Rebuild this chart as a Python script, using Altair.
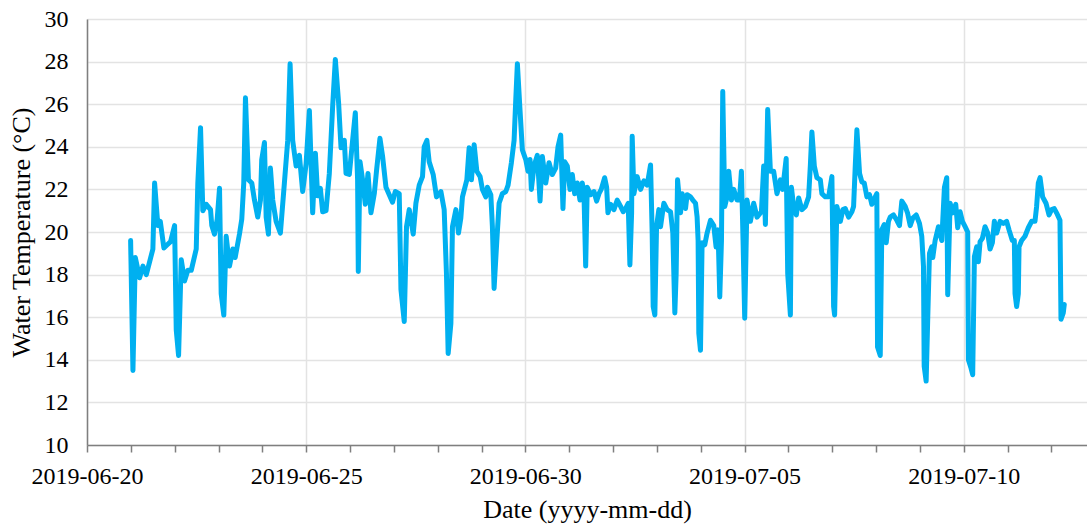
import altair as alt
import pandas as pd

start = "2019-06-20"

# time in days since 2019-06-20 00:00
day_offsets = [
    0.995, 1.048, 1.102, 1.200, 1.276, 1.353, 1.428, 1.503, 1.542, 1.617, 1.672, 1.754, 1.831, 1.907,
    1.998, 2.036, 2.089, 2.150, 2.225, 2.301, 2.378, 2.492, 2.528, 2.590, 2.642, 2.720, 2.818, 2.847,
    2.909, 2.970, 3.023, 3.061, 3.121, 3.175, 3.251, 3.326, 3.380, 3.478, 3.531, 3.576, 3.615, 3.683,
    3.759, 3.820, 3.895, 3.957, 3.986, 4.048, 4.087, 4.139, 4.184, 4.237, 4.314, 4.412, 4.503, 4.579,
    4.633, 4.692, 4.770, 4.845, 4.920, 4.998, 5.073, 5.148, 5.210, 5.262, 5.323, 5.376, 5.453, 5.528,
    5.604, 5.665, 5.740, 5.795, 5.870, 5.909, 5.984, 6.059, 6.121, 6.173, 6.189, 6.228, 6.287, 6.348,
    6.410, 6.478, 6.554, 6.606, 6.683, 6.743, 6.820, 6.895, 6.970, 7.032, 7.123, 7.162, 7.237, 7.289,
    7.351, 7.442, 7.503, 7.579, 7.654, 7.692, 7.754, 7.806, 7.897, 7.973, 8.073, 8.148, 8.200, 8.239,
    8.301, 8.337, 8.415, 8.474, 8.528, 8.565, 8.665, 8.717, 8.770, 8.832, 8.893, 8.968, 9.020, 9.098,
    9.134, 9.212, 9.248, 9.287, 9.349, 9.401, 9.476, 9.554, 9.606, 9.681, 9.743, 9.781, 9.818, 9.873,
    9.932, 10.009, 10.061, 10.107, 10.137, 10.198, 10.273, 10.335, 10.387, 10.465, 10.540, 10.615,
    10.692, 10.745, 10.806, 10.858, 10.897, 10.957, 11.018, 11.071, 11.125, 11.185, 11.246, 11.298,
    11.337, 11.376, 11.412, 11.490, 11.565, 11.626, 11.679, 11.731, 11.809, 11.854, 11.884, 11.946,
    12.021, 12.096, 12.173, 12.232, 12.287, 12.346, 12.385, 12.424, 12.437, 12.476, 12.551, 12.629,
    12.704, 12.779, 12.856, 12.893, 12.916, 12.954, 12.993, 13.045, 13.084, 13.159, 13.234, 13.312,
    13.364, 13.410, 13.440, 13.472, 13.540, 13.577, 13.654, 13.690, 13.768, 13.820, 13.882, 13.918,
    13.941, 13.957, 13.995, 14.032, 14.093, 14.146, 14.223, 14.298, 14.351, 14.396, 14.435, 14.474,
    14.503, 14.549, 14.601, 14.640, 14.701, 14.754, 14.829, 14.884, 14.929, 14.966, 15.004, 15.057,
    15.134, 15.209, 15.285, 15.385, 15.437, 15.476, 15.528, 15.590, 15.665, 15.740, 15.818, 15.870,
    15.950, 15.985, 16.046, 16.069, 16.121, 16.182, 16.235, 16.310, 16.387, 16.462, 16.501, 16.537,
    16.592, 16.651, 16.729, 16.765, 16.843, 16.918, 16.993, 17.032, 17.055, 17.107, 17.185, 17.244,
    17.299, 17.374, 17.449, 17.488, 17.526, 17.563, 17.624, 17.677, 17.731, 17.791, 17.852, 17.904,
    17.982, 18.018, 18.034, 18.096, 18.132, 18.187, 18.232, 18.284, 18.323, 18.398, 18.474, 18.535,
    18.588, 18.665, 18.718, 18.779, 18.838, 18.916, 18.991, 19.043, 19.082, 19.098, 19.143, 19.180,
    19.219, 19.271, 19.294, 19.348, 19.424, 19.499, 19.560, 19.613, 19.635, 19.690, 19.749, 19.818,
    19.863, 19.918, 19.970, 20.032, 20.091, 20.107, 20.168, 20.205, 20.244, 20.296, 20.335, 20.374,
    20.426, 20.487, 20.547, 20.601, 20.654, 20.699, 20.752, 20.829, 20.904, 20.979, 21.034, 21.109,
    21.155, 21.171, 21.207, 21.246, 21.262, 21.321, 21.398, 21.474, 21.549, 21.626, 21.663, 21.702,
    21.741, 21.800, 21.877, 21.946, 22.005, 22.066, 22.118, 22.196, 22.219, 22.271, 22.294,
]

# water temperature (deg C)
temps = [
    19.6, 13.5, 18.8, 17.85, 18.4, 18.0, 18.6, 19.2, 22.3, 20.3, 20.5, 19.25, 19.4, 19.55,
    20.3, 15.4, 14.2, 18.7, 17.7, 18.2, 18.2, 19.2, 22.3, 24.9, 21.0, 21.3, 21.05, 20.3,
    19.9, 20.6, 22.05, 17.1, 16.1, 19.8, 18.4, 19.2, 18.8, 19.9, 20.6, 22.3, 26.3, 22.45,
    22.3, 21.5, 20.7, 21.5, 23.4, 24.2, 20.7, 19.9, 23.0, 21.5, 20.5, 19.95, 22.3, 24.3,
    27.9, 24.3, 23.1, 23.6, 21.9, 23.2, 25.7, 20.9, 23.7, 21.7, 22.05, 20.95, 21.0, 22.75,
    25.9, 28.1, 26.05, 23.95, 24.3, 22.75, 22.7, 24.3, 25.6, 22.45, 18.15, 23.3, 22.45, 21.3,
    22.75, 20.9, 21.8, 22.9, 24.4, 23.55, 22.1, 21.75, 21.4, 21.9, 21.8, 17.3, 15.8, 20.25,
    21.05, 19.9, 21.35, 22.2, 22.6, 24.0, 24.3, 23.3, 22.7, 21.65, 21.9, 21.05, 18.05, 14.3,
    15.7, 20.25, 21.05, 19.95, 20.65, 21.65, 22.45, 23.95, 22.45, 24.1, 22.85, 22.6, 22.0, 21.65,
    22.1, 21.75, 20.25, 17.35, 19.6, 21.35, 21.8, 21.9, 22.2, 23.25, 24.3, 26.2, 27.9, 25.9,
    23.85, 23.4, 22.85, 23.4, 22.0, 23.1, 23.6, 21.45, 23.55, 22.3, 23.25, 22.7,
    23.0, 24.0, 24.55, 21.1, 23.3, 23.1, 22.0, 22.7, 21.8, 22.3, 21.5, 22.3,
    21.8, 18.4, 22.1, 21.75, 21.9, 21.45, 21.8, 22.0, 22.55, 22.1, 20.9, 21.3,
    21.05, 21.5, 21.2, 20.95, 21.1, 21.35, 18.45, 20.9, 24.5, 21.8, 22.6, 22.0,
    22.4, 22.2, 23.15, 19.95, 16.5, 16.1, 20.25, 21.05, 20.25, 21.35, 21.05, 20.95,
    19.95, 16.2, 18.05, 22.45, 20.9, 21.8, 21.1, 21.75, 21.65, 21.5, 21.35, 20.7,
    19.6, 15.25, 14.45, 19.5, 19.4, 19.95, 20.55, 20.3, 19.3, 20.1, 16.95, 19.6,
    26.6, 21.2, 21.65, 22.85, 21.5, 22.0, 21.5, 21.5, 22.85, 19.6, 15.95, 21.5,
    20.5, 21.35, 20.7, 20.95, 23.1, 20.35, 25.75, 22.85, 22.85, 21.8, 22.45, 22.0,
    23.45, 18.05, 16.1, 22.1, 21.2, 20.8, 21.6, 21.05, 21.2, 21.65, 23.1, 24.7,
    23.1, 22.55, 22.45, 21.8, 21.65, 21.65, 22.6, 16.5, 16.1, 21.2, 20.5, 21.05,
    21.1, 20.7, 20.95, 21.2, 23.1, 24.8, 22.75, 22.35, 22.3, 21.65, 21.75, 21.3,
    21.65, 21.8, 14.6, 14.2, 20.1, 20.35, 19.5, 20.5, 20.7, 20.8, 20.55, 20.3,
    21.45, 21.2, 20.9, 20.3, 20.65, 20.8, 20.4, 19.8, 18.4, 13.7, 13.0, 16.0,
    19.0, 19.3, 18.8, 19.6, 20.25, 19.6, 22.1, 22.55, 17.05, 21.35, 20.9, 21.3,
    20.2, 20.95, 20.5, 20.25, 20.0, 14.0, 13.6, 13.3, 18.85, 19.3, 18.6, 19.55,
    19.7, 20.25, 19.95, 19.2, 19.5, 20.5, 19.95, 20.5, 20.4, 20.5, 20.1, 19.6,
    19.6, 17.1, 16.5, 17.1, 19.3, 19.6, 19.8, 20.2, 20.5, 20.5, 21.2, 22.3,
    22.55, 21.65, 21.35, 20.8, 21.05, 21.1, 20.9, 20.55, 15.9, 16.2, 16.6,
]

y_ticks = [10, 12, 14, 16, 18, 20, 22, 24, 26, 28, 30]

t0 = pd.Timestamp(start)
df = pd.DataFrame({
    "time": [t0 + pd.Timedelta(days=d) for d in day_offsets],
    "temp": temps,
})

tick_days = pd.date_range("2019-06-20", "2019-07-12", freq="D")
tick_values = [alt.DateTime(year=d.year, month=d.month, date=d.day) for d in tick_days]

FONT = "Liberation Serif"
is_major = "date(datum.value) % 5 == 0"

x_axis = alt.Axis(
    values=tick_values,
    labelExpr=f"{is_major} ? timeFormat(datum.value, '%Y-%m-%d') : ''",
    labelOverlap=False,
    labelFlush=False,
    labelBaseline="alphabetic",
    labelPadding=31,
    tickSize=7,
    tickWidth=1.5,
    tickColor="#7f7f7f",
    grid=True,
    gridOpacity={"condition": {"test": is_major, "value": 1}, "value": 0},
    title="Date (yyyy-mm-dd)",
    titleBaseline="alphabetic",
    titleY=72,
)

y_axis = alt.Axis(
    values=y_ticks,
    ticks=False,
    labelPadding=19,
    labelBaseline="middle",
    grid=True,
    title="Water Temperature (°C)",
    titleAngle=-90,
    titleBaseline="alphabetic",
    titleX=-58,
    titleY=213,
)

chart = (
    alt.Chart(df)
    .mark_line(color="#00B0F0", strokeWidth=5, strokeJoin="round", strokeCap="round")
    .encode(
        x=alt.X(
            "time:T",
            scale=alt.Scale(
                domain=[
                    alt.DateTime(year=2019, month=6, date=20),
                    alt.DateTime(year=2019, month=7, date=12, hours=19, minutes=30),
                ],
                nice=False,
            ),
            axis=x_axis,
        ),
        y=alt.Y("temp:Q", scale=alt.Scale(domain=[10, 30], nice=False, zero=False), axis=y_axis),
    )
    .properties(
        width=1000,
        height=426,
        background="white",
        autosize=alt.AutoSizeParams(type="none"),
        padding={"left": 87, "top": 19, "right": 0, "bottom": 82},
    )
    .configure_view(stroke=None)
    .configure_axis(
        labelFont=FONT,
        labelFontSize=24,
        labelColor="#000000",
        titleFont=FONT,
        titleFontSize=26,
        titleFontWeight="normal",
        titleColor="#000000",
        domainColor="#7f7f7f",
        domainWidth=1.5,
        gridColor="#e3e3e3",
        gridWidth=1.5,
    )
)

chart.save("out.html", embed_options={"renderer": "svg", "actions": False})
